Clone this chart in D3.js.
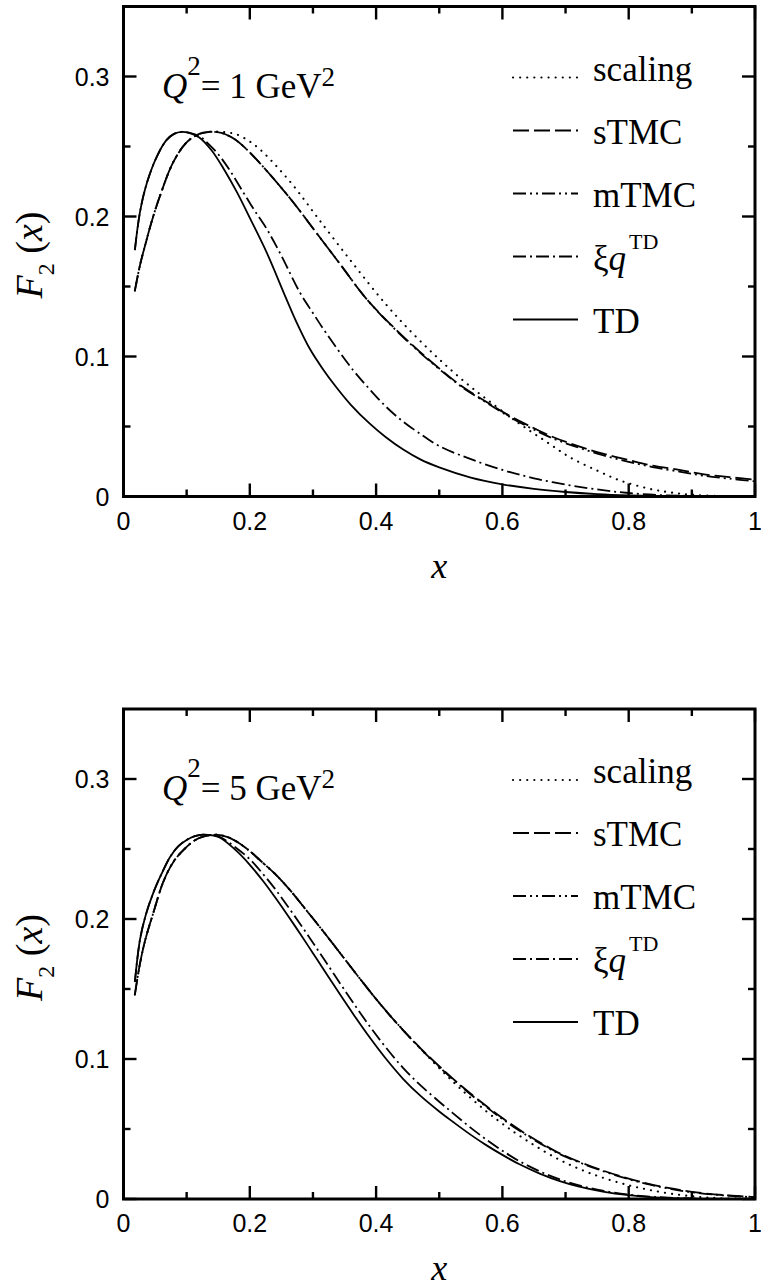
<!DOCTYPE html>
<html><head><meta charset="utf-8">
<script src="https://cdn.jsdelivr.net/npm/d3@7"></script>
<style>body{margin:0;background:#fff} svg{display:block}</style>
</head><body>
<svg id="c" width="761" height="1287"></svg>
<script>
// ---------- tick values / labels ----------
const xTicks = [0, 0.2, 0.4, 0.6, 0.8, 1];
const xTickLabels = ["0", "0.2", "0.4", "0.6", "0.8", "1"];
const xMinorTicks = [0.1, 0.3, 0.5, 0.7, 0.9];
const yTicks = [0, 0.1, 0.2, 0.3];
const yTickLabels = ["0", "0.1", "0.2", "0.3"];
const yMinorTicks = [0.05, 0.15, 0.25];
const seriesNames = ["scaling", "sTMC", "mTMC", "xiq", "TD"];

// ---------- Q^2 = 1 GeV^2 ----------
const q1_TD_x = [0.018,0.026,0.037,0.053,0.068,0.08,0.092,0.105,0.12,0.14,0.16,0.18,0.2,0.227,0.258,0.275,0.295,0.315,0.337,0.36,0.39,0.415,0.443,0.47,0.5,0.55,0.6,0.65,0.7,0.75,0.8,0.85,0.9,0.95,1.0];
const q1_TD_y = [0.176,0.203,0.224,0.243,0.2545,0.259,0.2605,0.2595,0.2565,0.247,0.233,0.217,0.199,0.174,0.141,0.1235,0.1055,0.0915,0.078,0.0655,0.052,0.0425,0.0335,0.0265,0.0208,0.0135,0.0087,0.0054,0.0032,0.0017,0.0008,0.0003,0.0001,0,0];
const q1_xiq_x = [0.018,0.026,0.037,0.053,0.068,0.08,0.092,0.105,0.12,0.132,0.15,0.169,0.19,0.208,0.227,0.25,0.279,0.3,0.322,0.364,0.39,0.416,0.44,0.469,0.5,0.548,0.6,0.65,0.707,0.759,0.8,0.85,0.9,0.95,1.0];
const q1_xiq_y = [0.176,0.203,0.224,0.243,0.2545,0.259,0.2605,0.2598,0.2575,0.253,0.2445,0.2325,0.217,0.204,0.191,0.172,0.146,0.131,0.116,0.090,0.0765,0.064,0.0545,0.045,0.036,0.027,0.019,0.013,0.008,0.0045,0.0025,0.001,0.0004,0.0001,0];
const q1_sTMC_x = [0.018,0.026,0.034,0.045,0.058,0.079,0.1,0.12,0.137,0.155,0.175,0.195,0.232,0.269,0.306,0.343,0.385,0.432,0.469,0.5,0.538,0.575,0.606,0.64,0.68,0.72,0.759,0.8,0.838,0.88,0.917,0.96,1.0];
const q1_sTMC_y = [0.147,0.165,0.179,0.197,0.215,0.239,0.253,0.259,0.2605,0.2597,0.2555,0.248,0.230,0.210,0.188,0.166,0.141,0.119,0.1035,0.0915,0.078,0.0675,0.059,0.051,0.0425,0.036,0.0306,0.026,0.022,0.019,0.016,0.0138,0.012];
const q1_mTMC_x = q1_sTMC_x;
const q1_mTMC_y = [0.147,0.165,0.179,0.197,0.215,0.239,0.253,0.259,0.2605,0.2597,0.2555,0.248,0.230,0.210,0.188,0.166,0.141,0.1185,0.103,0.091,0.0775,0.067,0.0583,0.050,0.0415,0.035,0.0295,0.0248,0.021,0.0178,0.015,0.0127,0.0108];
const q1_scaling_x = [0.018,0.026,0.034,0.045,0.058,0.079,0.1,0.12,0.14,0.16,0.18,0.2,0.216,0.24,0.269,0.311,0.364,0.416,0.459,0.5,0.54,0.575,0.627,0.67,0.707,0.75,0.786,0.83,0.865,0.9,0.95,1.0];
const q1_scaling_y = [0.147,0.165,0.179,0.197,0.215,0.239,0.253,0.259,0.2607,0.2603,0.2585,0.2535,0.248,0.237,0.222,0.197,0.166,0.137,0.116,0.098,0.082,0.0695,0.052,0.039,0.028,0.0185,0.0115,0.0058,0.003,0.0012,0.0003,0];

// ---------- Q^2 = 5 GeV^2 ----------
const q5_TD_x = [0.018,0.026,0.035,0.047,0.06,0.074,0.087,0.1,0.113,0.126,0.14,0.153,0.179,0.2,0.221,0.24,0.258,0.28,0.3,0.32,0.343,0.365,0.39,0.415,0.443,0.47,0.5,0.522,0.55,0.575,0.6,0.627,0.66,0.691,0.72,0.759,0.8,0.84,0.9,0.95,1.0];
const q5_TD_y = [0.155,0.185,0.2025,0.2185,0.232,0.2445,0.252,0.2565,0.2592,0.2603,0.2598,0.258,0.2486,0.2387,0.2271,0.2155,0.2039,0.1893,0.1756,0.1618,0.146,0.1313,0.1153,0.1005,0.0857,0.0738,0.0625,0.055,0.0458,0.0383,0.0315,0.0248,0.018,0.0128,0.009,0.0053,0.0027,0.0012,0.0003,0.0001,0];
const q5_xiq_x = q5_TD_x;
const q5_xiq_y = [0.155,0.185,0.2025,0.2185,0.232,0.2445,0.252,0.2565,0.2592,0.2603,0.2598,0.2585,0.2506,0.2427,0.2321,0.2215,0.2104,0.1963,0.1831,0.1696,0.154,0.1393,0.1233,0.1085,0.0935,0.0813,0.0695,0.0612,0.0508,0.0423,0.0345,0.027,0.0196,0.014,0.0099,0.0059,0.0031,0.0015,0.0004,0.0001,0];
const q5_sTMC_x = [0.018,0.026,0.035,0.047,0.063,0.08,0.1,0.113,0.126,0.147,0.165,0.179,0.2,0.216,0.24,0.263,0.29,0.311,0.333,0.353,0.375,0.395,0.42,0.443,0.47,0.5,0.533,0.575,0.6,0.638,0.67,0.696,0.74,0.786,0.83,0.865,0.9,0.95,1.0];
const q5_sTMC_y = [0.146,0.168,0.186,0.204,0.2265,0.2415,0.2515,0.2562,0.2588,0.2602,0.2585,0.2553,0.2485,0.242,0.2322,0.221,0.206,0.1942,0.1815,0.1698,0.157,0.1456,0.1321,0.1205,0.1078,0.0948,0.0815,0.0662,0.0578,0.0462,0.0376,0.0315,0.0234,0.0164,0.011,0.0077,0.0051,0.0028,0.0014];
const q5_mTMC_x = q5_sTMC_x;
const q5_mTMC_y = [0.146,0.168,0.186,0.204,0.2265,0.2415,0.2515,0.2562,0.2588,0.2602,0.2585,0.2553,0.2485,0.242,0.2322,0.221,0.206,0.1942,0.1815,0.1698,0.157,0.1456,0.1321,0.1205,0.1075,0.0943,0.081,0.0656,0.0571,0.0456,0.0371,0.031,0.023,0.016,0.0106,0.0073,0.0048,0.0026,0.0012];
const q5_scaling_x = [0.018,0.026,0.035,0.047,0.063,0.08,0.1,0.113,0.126,0.147,0.165,0.179,0.2,0.216,0.24,0.263,0.29,0.311,0.333,0.353,0.375,0.395,0.42,0.443,0.47,0.5,0.533,0.575,0.6,0.627,0.68,0.72,0.759,0.8,0.838,0.88,0.917,0.95,1.0];
const q5_scaling_y = [0.146,0.168,0.186,0.204,0.2265,0.2415,0.2515,0.2562,0.2588,0.2602,0.2585,0.2553,0.2485,0.242,0.2322,0.221,0.206,0.1942,0.1815,0.1698,0.157,0.1456,0.1321,0.1205,0.1075,0.0935,0.079,0.0625,0.0538,0.0452,0.0305,0.0218,0.0152,0.0098,0.006,0.003,0.0013,0.0005,0.0001];

// ---------- drawing ----------
const svg = d3.select("#c");
const serif = "'Liberation Serif','Times New Roman',serif";
const sans = "'Liberation Sans',Arial,sans-serif";
const x = d3.scaleLinear().domain([0, 1]).range([123.5, 755]);

const styles = {
  scaling: {dash: "0.1,7", cap: "round", w: 2.1},
  sTMC:    {dash: "16,5", cap: "butt", w: 1.8},
  mTMC:    {dash: "13,4,2,4,2,4", cap: "butt", w: 1.8},
  xiq:     {dash: "13,4,2,4", cap: "butt", w: 1.8},
  TD:      {dash: null, cap: "butt", w: 1.8}
};

const panels = [
  {y0: 496.5, q: "1", data: {
    scaling: [q1_scaling_x, q1_scaling_y], sTMC: [q1_sTMC_x, q1_sTMC_y],
    mTMC: [q1_mTMC_x, q1_mTMC_y], xiq: [q1_xiq_x, q1_xiq_y], TD: [q1_TD_x, q1_TD_y]}},
  {y0: 1199, q: "5", data: {
    scaling: [q5_scaling_x, q5_scaling_y], sTMC: [q5_sTMC_x, q5_sTMC_y],
    mTMC: [q5_mTMC_x, q5_mTMC_y], xiq: [q5_xiq_x, q5_xiq_y], TD: [q5_TD_x, q5_TD_y]}}
];

panels.forEach(p => {
  const y = d3.scaleLinear().domain([0, 0.35]).range([p.y0, p.y0 - 490]);
  const g = svg.append("g");
  const [x0, x1] = x.range();
  const yb = y(0), yt = y(0.35);

  // curves
  const line = d3.line().x(d => x(d[0])).y(d => y(Math.max(0, d[1]))).curve(d3.curveCatmullRom.alpha(0.5));
  seriesNames.forEach(name => {
    const [xs, ys] = p.data[name];
    const pts = xs.map((v, i) => [v, ys[i]]);
    const s = styles[name];
    g.append("path").datum(pts).attr("d", line)
      .attr("fill", "none").attr("stroke", "#000")
      .attr("stroke-width", s.w).attr("stroke-linecap", s.cap)
      .attr("stroke-dasharray", s.dash);
  });

  // ticks (inward, all four sides)
  const tk = g.append("g").attr("stroke", "#000").attr("stroke-width", 2.4);
  const addX = (vals, len) => vals.forEach(v => {
    tk.append("line").attr("x1", x(v)).attr("x2", x(v)).attr("y1", yb).attr("y2", yb - len);
    tk.append("line").attr("x1", x(v)).attr("x2", x(v)).attr("y1", yt).attr("y2", yt + len);
  });
  const addY = (vals, len) => vals.forEach(v => {
    tk.append("line").attr("y1", y(v)).attr("y2", y(v)).attr("x1", x0).attr("x2", x0 + len);
    tk.append("line").attr("y1", y(v)).attr("y2", y(v)).attr("x1", x1).attr("x2", x1 - len);
  });
  addX(xTicks, 13); addX(xMinorTicks, 7);
  addY(yTicks, 13); addY(yMinorTicks, 7);

  // frame
  g.append("rect").attr("x", x0).attr("y", yt).attr("width", x1 - x0).attr("height", yb - yt)
    .attr("fill", "none").attr("stroke", "#000").attr("stroke-width", 3);

  // tick labels
  xTicks.forEach((v, i) => g.append("text").attr("x", x(v)).attr("y", yb + 33)
    .attr("text-anchor", "middle").attr("font-family", sans).attr("font-size", 25).text(xTickLabels[i]));
  yTicks.forEach((v, i) => g.append("text").attr("x", x0 - 14).attr("y", y(v) + 9)
    .attr("text-anchor", "end").attr("font-family", sans).attr("font-size", 25).text(yTickLabels[i]));

  // axis titles
  g.append("text").attr("x", (x0 + x1) / 2).attr("y", yb + 81).attr("text-anchor", "middle")
    .attr("font-family", serif).attr("font-style", "italic").attr("font-size", 36).text("x");
  const yt2 = g.append("text").attr("transform", `translate(42,${yb - 241.5}) rotate(-90)`)
    .attr("text-anchor", "middle").attr("font-family", serif).attr("font-size", 38);
  yt2.append("tspan").attr("font-style", "italic").text("F");
  yt2.append("tspan").attr("font-size", 24).attr("dy", 12).text("2");
  yt2.append("tspan").attr("dy", -12).text(" (");
  yt2.append("tspan").attr("font-style", "italic").text("x");
  yt2.append("tspan").text(")");

  // Q^2 label
  const qb = p.y0 - 399;
  const qt = g.append("text").attr("x", 162).attr("y", qb).attr("font-family", serif).attr("font-size", 35);
  qt.append("tspan").attr("font-style", "italic").text("Q");
  qt.append("tspan").attr("font-size", 27).attr("dy", -23).text("2");
  qt.append("tspan").attr("dy", 23).text("= " + p.q + " GeV");
  qt.append("tspan").attr("font-size", 27).attr("dy", -12).text("2");

  // legend
  const labels = {scaling: "scaling", sTMC: "sTMC", mTMC: "mTMC", TD: "TD"};
  seriesNames.forEach((name, i) => {
    const base = p.y0 - 416 + 63 * i;
    const ly = name === "scaling" ? base - 3 : base - 13;
    const s = styles[name];
    g.append("line").attr("x1", 513).attr("x2", 578).attr("y1", ly).attr("y2", ly)
      .attr("stroke", "#000").attr("stroke-width", s.w).attr("stroke-linecap", s.cap)
      .attr("stroke-dasharray", s.dash);
    const t = g.append("text").attr("x", 593).attr("y", base).attr("font-family", serif).attr("font-size", 35);
    if (name === "xiq") {
      t.append("tspan").text("ξ");
      t.append("tspan").attr("font-style", "italic").text("q");
      t.append("tspan").attr("font-size", 22).attr("dy", -21).attr("dx", 3).text("TD");
    } else {
      t.text(labels[name]);
    }
  });
});
</script>
</body></html>
